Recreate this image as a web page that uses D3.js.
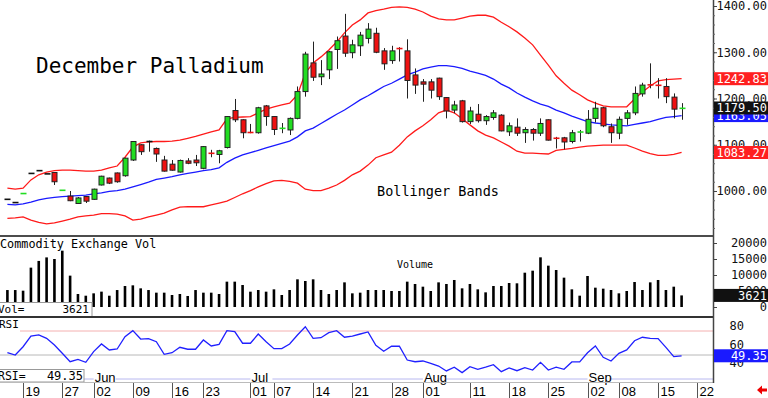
<!DOCTYPE html>
<html lang="en">
<head>
<meta charset="UTF-8">
<title>December Palladium</title>
<script src="https://d3js.org/d3.v7.min.js"></script>
<style>
  body { margin: 0; background: #fff; }
  svg { display: block; }
</style>
</head>
<body>
<svg width="768" height="398"></svg>
<script>
// trading days (2025), the last two are empty slots on the date axis
var days = ["05-15","05-16","05-19","05-20","05-21","05-22","05-23","05-27","05-28","05-29","05-30",
  "06-02","06-03","06-04","06-05","06-06","06-09","06-10","06-11","06-12","06-13","06-16","06-17","06-18","06-20",
  "06-23","06-24","06-25","06-26","06-27","06-30",
  "07-01","07-02","07-03","07-07","07-08","07-09","07-10","07-11","07-14","07-15","07-16","07-17","07-18",
  "07-21","07-22","07-23","07-24","07-25","07-28","07-29","07-30","07-31",
  "08-01","08-04","08-05","08-06","08-07","08-08","08-11","08-12","08-13","08-14","08-15","08-18","08-19",
  "08-20","08-21","08-22","08-25","08-26","08-27","08-28","08-29",
  "09-02","09-03","09-04","09-05","09-08","09-09","09-10","09-11","09-12","09-15","09-16","09-17","09-18","09-19","09-22"];
var tickDays = ["05-19","05-27","06-02","06-09","06-16","06-23","07-01","07-07","07-14","07-21","07-28",
  "08-01","08-11","08-18","08-25","09-02","09-08","09-15","09-22"];
var monthNames = ["Jun","Jul","Aug","Sep"];
var monthStarts = ["06-02","07-01","08-01","09-02"];

var open = [982,975,994,1038,1044,1037,1040,1001,989,973,
  988,982,1013,1028,1039,1033,1067,1100,1107,1092,
  1067,1058,1041,1065,1067,1049,1082,1079,1094,1174,
  1154,1127,1126,1184,1161,1135,1132,1157,1215,1277,
  1247,1262,1306,1335,1299,1314,1330,1341,1303,1282,
  1310,1303,1251,1236,1236,1244,1202,1175,1195,1150,
  1166,1152,1159,1164,1128,1138,1126,1133,1125,1154,
  1116,1115,1107,1127,1125,1157,1180,1139,1125,1157,
  1169,1210,1230,1229,1226,1203,1178];
var high = [982,975,995,1038,1044,1037,1041,1002,1000,987,
  989,1005,1033,1029,1040,1072,1108,1101,1109,1094,
  1076,1067,1068,1071,1078,1097,1089,1089,1162,1199,
  1155,1145,1182,1186,1162,1147,1159,1226,1301,1323,
  1283,1303,1334,1383,1327,1344,1363,1353,1309,1314,
  1311,1328,1265,1242,1242,1245,1203,1195,1197,1182,
  1188,1164,1175,1166,1148,1157,1138,1136,1157,1155,
  1117,1117,1132,1132,1175,1193,1182,1146,1161,1175,
  1226,1234,1276,1244,1244,1211,1190];
var low = [982,975,994,1038,1044,1037,1013,1001,978,972,
  974,981,1012,1015,1018,1031,1065,1078,1085,1063,
  1042,1044,1040,1058,1054,1047,1073,1060,1092,1149,
  1114,1125,1124,1141,1121,1125,1121,1155,1204,1238,
  1229,1242,1264,1290,1287,1292,1319,1298,1262,1275,
  1280,1200,1210,1193,1200,1197,1157,1168,1148,1145,
  1148,1143,1154,1129,1119,1119,1104,1109,1119,1109,
  1092,1090,1103,1107,1123,1148,1138,1104,1112,1143,
  1164,1204,1222,1200,1190,1157,1154];
var close = [982,975,995,1038,1044,1037,1020,1002,979,985,
  978,1004,1032,1017,1020,1071,1107,1085,1107,1080,
  1043,1045,1066,1060,1061,1096,1081,1087,1161,1154,
  1126,1126,1180,1161,1133,1136,1157,1215,1296,1246,
  1253,1301,1325,1298,1316,1337,1350,1300,1275,1303,
  1306,1239,1229,1231,1218,1204,1173,1186,1150,1173,
  1152,1161,1169,1130,1141,1125,1133,1125,1146,1110,
  1112,1106,1126,1128,1155,1179,1141,1126,1155,1169,
  1211,1229,1229,1228,1204,1177,1179.5];

var upperBand = [1006,1004,1006,1024,1035,1041,1044,1045,1045,1044,
  1043,1043,1045,1050,1054,1073,1095,1104,1106,1107,
  1107,1108,1110,1114,1118,1123,1128,1132,1156,1159,
  1160,1161,1169,1177,1182,1186,1190,1208,1255,1277,
  1290,1305,1322,1342,1359,1370,1385,1390,1393,1397,
  1398,1397,1393,1387,1378,1372,1370,1370,1374,1378,
  1380,1380,1376,1365,1355,1344,1331,1316,1294,1272,
  1249,1233,1218,1208,1197,1190,1184,1182,1182,1182,
  1199,1214,1227,1238,1241,1242,1242.83];
var middleBand = [971,970,972,976,981,984,986,988,989,990,
  991,994,996,999,1001,1004,1009,1014,1019,1025,
  1028,1031,1035,1038,1041,1044,1046,1050,1062,1071,
  1078,1083,1088,1093,1098,1103,1108,1117,1130,1136,
  1146,1156,1166,1175,1186,1197,1206,1216,1226,1233,
  1242,1251,1257,1264,1268,1271,1271,1269,1265,1259,
  1255,1250,1242,1231,1223,1212,1203,1195,1188,1183,
  1175,1169,1162,1156,1150,1147,1145,1143,1142,1141,
  1144,1147,1150,1155,1159,1161,1163.05];
var lowerBand = [941,942,944,937,932,929,931,935,939,944,
  946,948,951,951,950,946,937,939,944,948,
  952,959,965,966,966,966,970,974,978,986,
  994,1001,1009,1016,1022,1023,1021,1017,1004,1001,
  1001,1006,1013,1023,1035,1043,1056,1072,1078,1084,
  1099,1117,1130,1141,1154,1169,1175,1169,1156,1143,
  1130,1121,1115,1106,1097,1086,1082,1082,1081,1080,
  1088,1090,1092,1095,1097,1098,1099,1099,1099,1099,
  1093,1086,1081,1077,1077,1079,1083.27];

var volume = [5300,5300,5100,12300,14400,15500,15000,17600,9800,4060,
  3530,4270,4800,3530,5300,6560,6770,5830,5300,4480,
  4480,3750,4060,3440,5300,4480,4480,4060,7920,7920,
  6870,4790,5310,4790,5520,3750,5310,8650,8125,8650,
  5310,4060,5310,7700,4270,4480,5310,5310,5310,5000,
  5000,7920,7190,6350,5000,7700,7190,8440,5830,7190,
  5520,4580,6560,6560,7500,7400,10720,11350,15520,12920,
  11560,9170,5520,3540,9690,6040,5730,5310,4270,5000,
  7810,5310,7700,8440,5310,6350,3621];
var rsi = [51.9,50,56.9,65.8,66.7,63.9,58.3,51.4,44.4,46.4,
  43.9,52.8,59.2,54.2,55,65.3,70.3,63.3,63.6,61.1,
  50.6,51.9,56.4,54.8,54.8,62.5,57.5,58.9,70.3,69.4,
  59.8,59.8,67.5,61.1,55.3,55.3,59.2,66.7,73.6,63.9,
  64.4,68.6,70.3,64.8,65.8,67.5,69.2,58.1,53.1,57.3,
  57.3,45.8,44.4,45,43.1,40.8,36.7,39.8,35.3,40.3,
  38.1,39.8,41.9,36.1,39.2,36.9,39.4,37.5,43.9,37.5,
  39.8,38.1,44.2,44.2,51.9,57.5,48.1,45,51.4,54.2,
  61.9,64.8,63.9,63.6,56.4,48.6,49.35];

var priceTicks = [1000,1100,1200,1300,1400];
var volTicks = [0,5000,10000,15000,20000];
var rsiTicks = [40,60,80];

var mono = "'DejaVu Sans Mono', monospace";
var sans = "'Liberation Sans', Arial, sans-serif";
var green = "#22dd22", red = "#ee1111";

var svg = d3.select("svg");
var n = close.length;
var x = d3.scaleLinear().domain([0, 86]).range([7.4, 681.6]);
var yP = d3.scaleLinear().domain([1000, 1400]).range([191, 6]);
var yV = d3.scaleLinear().domain([0, 20000]).range([307, 243]);
var yR = d3.scaleLinear().domain([30, 70]).range([379, 331]);
var yRLab = d3.scaleLinear().domain([40, 80]).range([363, 326]);

// ---- price panel
svg.append("text").attr("x", 36).attr("y", 73).attr("font-family", mono)
  .attr("font-size", 21).text("December Palladium");
svg.append("text").attr("x", 377).attr("y", 196).attr("font-family", mono)
  .attr("font-size", 13.5).text("Bollinger Bands");

var band = d3.line().x(function(d, i) { return x(i); }).y(function(d) { return yP(d); });
svg.append("path").attr("d", band(upperBand)).attr("fill", "none").attr("stroke", "#ff1a1a").attr("stroke-width", 1.3);
svg.append("path").attr("d", band(lowerBand)).attr("fill", "none").attr("stroke", "#ff1a1a").attr("stroke-width", 1.3);
svg.append("path").attr("d", band(middleBand)).attr("fill", "none").attr("stroke", "#1a1aff").attr("stroke-width", 1.3);

var idx = d3.range(n);
var candle = svg.append("g").selectAll("g").data(idx).enter().append("g");
candle.append("line")
  .attr("x1", function(i) { return Math.round(x(i)) + 0.5; })
  .attr("x2", function(i) { return Math.round(x(i)) + 0.5; })
  .attr("y1", function(i) { return yP(high[i]); })
  .attr("y2", function(i) { return yP(low[i]); })
  .attr("stroke", "#222");
candle.each(function(i) {
  var g = d3.select(this);
  var cx = Math.round(x(i)) + 0.5;
  var top = yP(Math.max(open[i], close[i])), bot = yP(Math.min(open[i], close[i]));
  var col = close[i] > open[i] ? green : (close[i] < open[i] ? red : "#111");
  if (bot - top < 2) {
    g.append("line").attr("x1", cx - 3).attr("x2", cx + 3)
      .attr("y1", (top + bot) / 2).attr("y2", (top + bot) / 2)
      .attr("stroke", col).attr("stroke-width", 1.6);
  } else {
    g.append("rect").attr("x", cx - 2.5).attr("y", top).attr("width", 5).attr("height", bot - top)
      .attr("fill", col).attr("stroke", "#222").attr("stroke-width", 1);
  }
});

// ---- volume panel
svg.append("text").attr("x", 0).attr("y", 248).attr("font-family", mono)
  .attr("font-size", 11.8).text("Commodity Exchange Vol");
svg.append("text").attr("x", 397).attr("y", 267.5).attr("font-family", mono)
  .attr("font-size", 10).text("Volume");
svg.append("g").selectAll("rect").data(volume).enter().append("rect")
  .attr("x", function(d, i) { return x(i) - 1.3; })
  .attr("width", 2.6)
  .attr("y", function(d) { return yV(d); })
  .attr("height", function(d) { return yV(0) - yV(d); })
  .attr("fill", "#000");

svg.append("rect").attr("x", -1).attr("y", 302.5).attr("width", 93).attr("height", 15)
  .attr("fill", "#fff").attr("stroke", "#999");
svg.append("text").attr("x", -2).attr("y", 313).attr("font-family", mono).attr("font-size", 11).text("Vol=");
svg.append("text").attr("x", 89).attr("y", 313).attr("font-family", mono).attr("font-size", 11)
  .attr("text-anchor", "end").text(d3.format("d")(volume[n - 1]));

// ---- RSI panel
svg.append("text").attr("x", -1).attr("y", 328).attr("font-family", mono).attr("font-size", 11).text("RSI");
svg.append("line").attr("x1", 20).attr("x2", 713).attr("y1", yR(70)).attr("y2", yR(70)).attr("stroke", "#f4b0b0");
svg.append("line").attr("x1", 0).attr("x2", 713).attr("y1", yR(50)).attr("y2", yR(50)).attr("stroke", "#b8b8b8");
svg.append("line").attr("x1", 0).attr("x2", 713).attr("y1", yR(30)).attr("y2", yR(30)).attr("stroke", "#b8b8f0");
svg.append("path")
  .attr("d", d3.line().x(function(d, i) { return x(i); }).y(function(d) { return yR(d); })(rsi))
  .attr("fill", "none").attr("stroke", "#2020ff").attr("stroke-width", 1.3);

monthNames.forEach(function(m, k) {
  var mx = x(days.indexOf(monthStarts[k]));
  svg.append("rect").attr("x", mx).attr("y", 371).attr("width", 22).attr("height", 11).attr("fill", "#fff");
  svg.append("text").attr("x", mx + 1).attr("y", 381.5).attr("font-family", sans).attr("font-size", 13).text(m);
});

svg.append("rect").attr("x", -1).attr("y", 369.5).attr("width", 85).attr("height", 12.5)
  .attr("fill", "#fff").attr("stroke", "#999");
svg.append("text").attr("x", -2).attr("y", 380).attr("font-family", mono).attr("font-size", 11.5).text("RSI=");
svg.append("text").attr("x", 83).attr("y", 380).attr("font-family", mono).attr("font-size", 12)
  .attr("text-anchor", "end").text(d3.format(".2f")(rsi[n - 1]));

// ---- separators and right axis
svg.append("line").attr("x1", 0).attr("x2", 713).attr("y1", 236).attr("y2", 236).attr("stroke", "#111").attr("stroke-width", 1.5);
svg.append("line").attr("x1", 0).attr("x2", 713).attr("y1", 317).attr("y2", 317).attr("stroke", "#333").attr("stroke-width", 2);
svg.append("line").attr("x1", 0).attr("x2", 713).attr("y1", 382.5).attr("y2", 382.5).attr("stroke", "#bbb");
svg.append("line").attr("x1", 713.5).attr("x2", 713.5).attr("y1", 0).attr("y2", 383).attr("stroke", "#444").attr("stroke-width", 1.5);

function rightAxis(scale, values, fmt) {
  var g = svg.append("g").attr("transform", "translate(713,0)")
    .call(d3.axisRight(scale).tickValues(values).tickFormat(fmt).tickSize(4));
  g.select(".domain").remove();
  g.selectAll("line").attr("stroke", "#444");
  g.selectAll("text").attr("x", 54).attr("text-anchor", "end")
    .attr("font-family", mono).attr("font-size", 12).attr("fill", "#111");
  return g;
}
var minor = svg.append("g").attr("transform", "translate(713,0)")
  .call(d3.axisRight(yP).tickValues(d3.range(920, 1420, 20)).tickFormat("").tickSize(2));
minor.select(".domain").remove();
minor.selectAll("line").attr("stroke", "#666");
rightAxis(yP, priceTicks, d3.format(".2f"));
rightAxis(yV, volTicks, d3.format("d"));
var rAx = rightAxis(yRLab, rsiTicks, d3.format("d"));
rAx.selectAll("text").attr("x", 31);
rAx.selectAll("line").remove();

function valueBox(y, txt, bg) {
  svg.append("rect").attr("x", 714).attr("y", y - 6.5).attr("width", 54).attr("height", 13).attr("fill", bg);
  svg.append("text").attr("x", 767).attr("y", y + 4.3).attr("text-anchor", "end")
    .attr("font-family", mono).attr("font-size", 12).attr("fill", "#fff").text(txt);
}
valueBox(yP(middleBand[n - 1]), d3.format(".2f")(middleBand[n - 1]), "#1a1aff");
valueBox(yP(upperBand[n - 1]), d3.format(".2f")(upperBand[n - 1]), "#ff2020");
valueBox(yP(lowerBand[n - 1]), d3.format(".2f")(lowerBand[n - 1]), "#ff2020");
valueBox(yP(close[n - 1]), d3.format(".2f")(close[n - 1]), "#111");
valueBox(yV(volume[n - 1]), d3.format("d")(volume[n - 1]), "#111");
valueBox(yR(rsi[n - 1]), d3.format(".2f")(rsi[n - 1]), "#1a1aff");

// ---- date axis
var dt = svg.append("g").selectAll("g").data(tickDays).enter().append("g")
  .attr("transform", function(d) { return "translate(" + Math.round(x(days.indexOf(d))) + ",0)"; });
dt.append("line").attr("x1", 0.5).attr("x2", 0.5).attr("y1", 383).attr("y2", 398).attr("stroke", "#555");
dt.append("text").attr("x", 2.5).attr("y", 395.5).attr("font-family", sans).attr("font-size", 13)
  .text(function(d) { return d.slice(3); });

svg.append("path").attr("d", "M757,390 L762,385.5 L762,388.5 L767,388.5 L767,391.5 L762,391.5 L762,394.5 Z")
  .attr("fill", "#e00");
</script>
</body>
</html>
